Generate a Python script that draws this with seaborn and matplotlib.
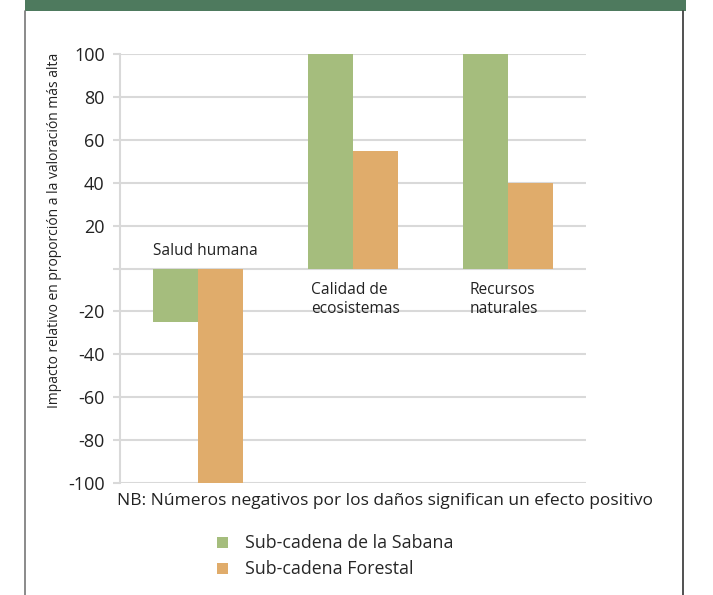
import matplotlib
matplotlib.use("Agg")
import matplotlib.pyplot as plt
import matplotlib.patches as mpatches
from matplotlib.lines import Line2D
import seaborn as sns
import pandas as pd

categories = ["Salud humana", "Calidad de\necosistemas", "Recursos\nnaturales"]
series_names = ["Sub-cadena de la Sabana", "Sub-cadena Forestal"]
sabana = [-25, 100, 100]
forestal = [-100, 55, 40]
yticks = [-100, -80, -60, -40, -20, 0, 20, 40, 60, 80, 100]
ytick_labels = ["-100", "-80", "-60", "-40", "-20", "", "20", "40", "60", "80", "100"]
ylabel = "Impacto relativo en proporción a la valoración más alta"
note = "NB: Números negativos por los daños significan un efecto positivo"
colors = ["#A5BD7D", "#E0AC6B"]

sns.set_style("white")
plt.rcParams["font.family"] = ["Open Sans", "DejaVu Sans"]

W, H = 713, 595
fig = plt.figure(figsize=(W / 100, H / 100), dpi=100)

df = pd.DataFrame({
    "cat": categories * 2,
    "serie": [series_names[0]] * 3 + [series_names[1]] * 3,
    "val": sabana + forestal,
})

ax = fig.add_axes([120 / W, 1 - 483 / H, 466 / W, 429 / H])
sns.barplot(data=df, x="cat", y="val", hue="serie", palette=colors,
            width=0.58, gap=0, ax=ax, legend=False, saturation=1,
            linewidth=0, edgecolor="none")

ax.set_ylim(-100, 100)
ax.set_xlim(-0.5, 2.5)
ax.set_yticks(yticks)
ax.set_yticklabels(ytick_labels, fontsize=13, color="#222222")
ax.set_xticks([])
ax.set_xlabel("")
ax.set_ylabel("")
ax.grid(axis="y", color="#d9d9d9", linewidth=1.5, zorder=0)
ax.set_axisbelow(True)
for s in ["top", "right", "bottom"]:
    ax.spines[s].set_visible(False)
ax.spines["left"].set_color("#d9d9d9")
ax.spines["left"].set_linewidth(1.5)
ax.tick_params(axis="y", length=5, width=1.5, color="#d9d9d9", pad=6, left=True)

# category labels
ax.text(-0.29, 8, categories[0], fontsize=11.2, ha="left", va="center", color="#222222")
ax.text(0.73, -14.5, categories[1], fontsize=11.2, ha="left", va="center",
        color="#222222", linespacing=1.25)
ax.text(1.75, -14.5, categories[2], fontsize=11.2, ha="left", va="center",
        color="#222222", linespacing=1.25)

fig.text(55 / W, 1 - 230 / H, ylabel, rotation=90, ha="center", va="center",
         fontsize=10, color="#222222")
fig.text(117 / W, 1 - 501 / H, note, ha="left", va="center", fontsize=12.5, color="#222222")

handles = [mpatches.Patch(facecolor=c, edgecolor="none") for c in colors]
fig.legend(handles, series_names, loc="upper left",
           bbox_to_anchor=(205 / W, 1 - 522 / H), frameon=False, fontsize=12.8,
           handlelength=0.6, handleheight=0.6, handletextpad=0.95, labelspacing=0.45,
           borderpad=0.2)

# decorations: banner and side borders
fig.patches.append(mpatches.Rectangle((25 / W, 1 - 11 / H), 661 / W, 11 / H,
                                      transform=fig.transFigure, facecolor="#4E7A5E",
                                      edgecolor="none"))
fig.add_artist(Line2D([25 / W, 25 / W], [0, 1 - 11 / H], transform=fig.transFigure,
                      color="#777777", linewidth=1.2))
fig.add_artist(Line2D([683 / W, 683 / W], [0, 1 - 11 / H], transform=fig.transFigure,
                      color="#333333", linewidth=1.2))

fig.savefig("out.png", dpi=100)
